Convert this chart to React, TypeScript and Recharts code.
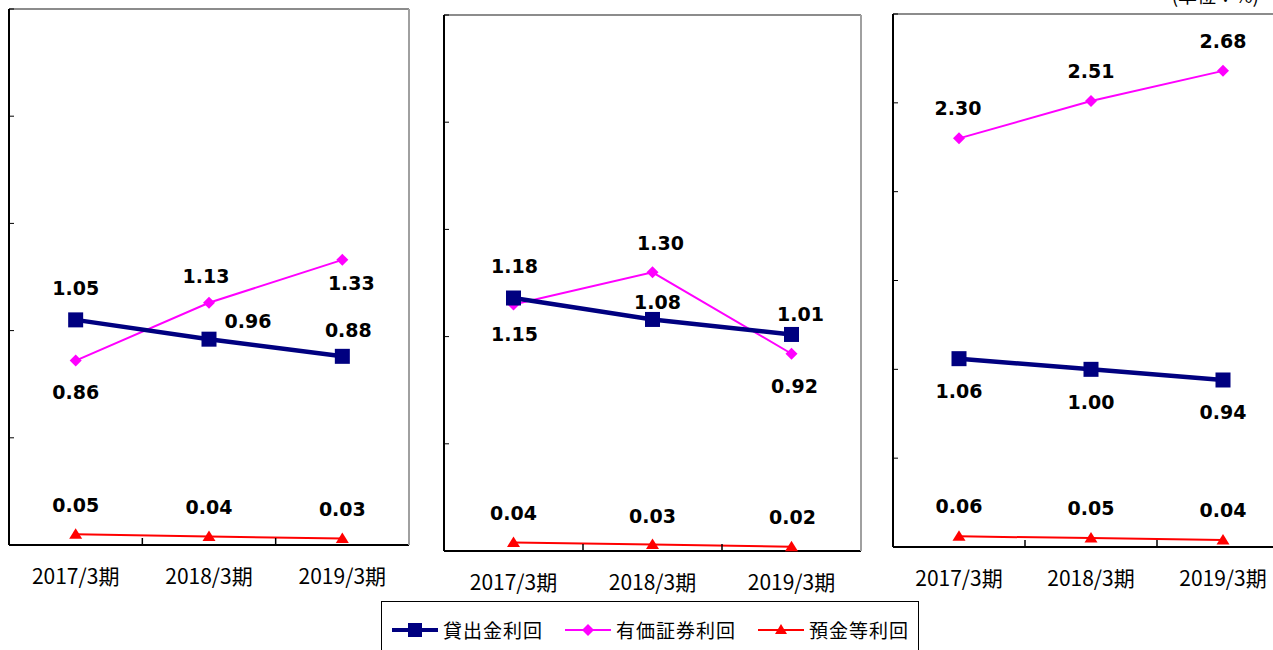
import React from "react"
import { LineChart, Line, XAxis, YAxis, LabelList } from "recharts"

const categories = ["2017/3期", "2018/3期", "2019/3期"]
const seriesNames = ["貸出金利回", "有価証券利回", "預金等利回"]

// 左：2017/3期～2019/3期
const loan1 = [1.05, 0.96, 0.88]
const sec1 = [0.86, 1.13, 1.33]
const dep1 = [0.05, 0.04, 0.03]
// 中央
const loan2 = [1.18, 1.08, 1.01]
const sec2 = [1.15, 1.3, 0.92]
const dep2 = [0.04, 0.03, 0.02]
// 右
const loan3 = [1.06, 1.0, 0.94]
const sec3 = [2.3, 2.51, 2.68]
const dep3 = [0.06, 0.05, 0.04]

const ticks25 = [0, 0.5, 1, 1.5, 2, 2.5]
const ticks30 = [0, 0.5, 1, 1.5, 2, 2.5, 3]

const NAVY = "#000080"
const PINK = "#ff00ff"
const RED = "#ff0000"
const M = 4
const AXIS_H = 50

const buildRows = (loan, sec, dep) =>
  categories.map((cat, i) => ({ cat, loan: loan[i], sec: sec[i], dep: dep[i] }))

const SquareDot = (props) => {
  const { cx, cy } = props
  if (cx == null || cy == null) return <g />
  return <rect x={cx - 7.5} y={cy - 7.5} width={15} height={15} fill={NAVY} />
}

const DiamondDot = (props) => {
  const { cx, cy } = props
  if (cx == null || cy == null) return <g />
  return <polygon points={`${cx},${cy - 6} ${cx + 6},${cy} ${cx},${cy + 6} ${cx - 6},${cy}`} fill={PINK} />
}

const TriangleDot = (props) => {
  const { cx, cy } = props
  if (cx == null || cy == null) return <g />
  return <polygon points={`${cx},${cy - 6} ${cx + 6.5},${cy + 4.5} ${cx - 6.5},${cy + 4.5}`} fill={RED} />
}

const valueLabel = (offsets) => (props) => {
  const { value, index } = props
  const x = props.x ?? props.viewBox?.x
  const y = props.y ?? props.viewBox?.y
  const [dx, dy] = offsets[index] || [0, -28]
  return (
    <text
      x={x + dx}
      y={y + dy}
      textAnchor="middle"
      dominantBaseline="central"
      fontFamily="'DejaVu Sans', Verdana, sans-serif"
      fontWeight="bold"
      fontSize={19}
      fill="#000"
    >
      {Number(value).toFixed(2)}
    </text>
  )
}

const CatTick = (props) => {
  const { x, y, payload, index } = props
  const edge = x + (payload.offset || 0)
  return (
    <g>
      {index < categories.length - 1 && (
        <line x1={edge} x2={edge} y1={y} y2={y - 7} stroke="#000" strokeWidth={1.5} />
      )}
      <text
        x={x}
        y={y + 30}
        textAnchor="middle"
        dominantBaseline="central"
        fontFamily="'Noto Sans CJK JP', sans-serif"
        fontSize={21}
        fill="#000"
      >
        {payload.value}
      </text>
    </g>
  )
}

const NoTick = () => <g />

function Panel({ rows, left, top, width, height, ticks, labels }) {
  const max = ticks[ticks.length - 1]
  return (
    <div style={{ position: "absolute", left: left - M - 1, top: top - M - 1 }}>
      <LineChart
        width={width + 2 * M + 2}
        height={height + M + 1 + AXIS_H}
        data={rows}
        margin={{ top: M, right: M, left: M, bottom: 0 }}
      >
        <XAxis
          dataKey="cat"
          scale="band"
          height={AXIS_H}
          axisLine={{ stroke: "#000", strokeWidth: 2 }}
          tickLine={false}
          tickSize={0}
          tickMargin={0}
          tick={<CatTick />}
          interval={0}
        />
        <XAxis
          xAxisId="top"
          dataKey="cat"
          scale="band"
          orientation="top"
          height={1}
          axisLine={{ stroke: "#8c8c8c", strokeWidth: 2 }}
          tickLine={false}
          tick={false}
        />
        <YAxis
          width={1}
          domain={[0, max]}
          ticks={ticks}
          axisLine={{ stroke: "#000", strokeWidth: 2 }}
          tickLine={{ stroke: "#000", strokeWidth: 1 }}
          tickSize={-5}
          tick={<NoTick />}
        />
        <YAxis
          yAxisId="right"
          orientation="right"
          width={1}
          domain={[0, max]}
          axisLine={{ stroke: "#a0a0a0", strokeWidth: 2 }}
          tickLine={false}
          tick={false}
        />
        <Line
          dataKey="dep"
          name={seriesNames[2]}
          stroke={RED}
          strokeWidth={2}
          dot={<TriangleDot />}
          isAnimationActive={false}
        >
          <LabelList dataKey="dep" content={valueLabel(labels.dep)} />
        </Line>
        <Line
          dataKey="sec"
          name={seriesNames[1]}
          stroke={PINK}
          strokeWidth={2}
          dot={<DiamondDot />}
          isAnimationActive={false}
        >
          <LabelList dataKey="sec" content={valueLabel(labels.sec)} />
        </Line>
        <Line
          dataKey="loan"
          name={seriesNames[0]}
          stroke={NAVY}
          strokeWidth={4.5}
          dot={<SquareDot />}
          isAnimationActive={false}
        >
          <LabelList dataKey="loan" content={valueLabel(labels.loan)} />
        </Line>
      </LineChart>
    </div>
  )
}

const labels1 = {
  loan: [[0, -32], [39, -18], [6, -26]],
  sec: [[0, 31], [-3, -27], [9, 23]],
  dep: [[0, -29], [0, -29], [0, -30]],
}
const labels2 = {
  loan: [[1, -32], [5, -17], [9, -20]],
  sec: [[1, 30], [8, -29], [3, 32]],
  dep: [[0, -29], [0, -29], [1, -30]],
}
const labels3 = {
  loan: [[0, 32], [0, 33], [0, 32]],
  sec: [[-1, -30], [0, -30], [0, -30]],
  dep: [[0, -30], [0, -30], [0, -30]],
}

const LegendIcon = ({ color, kind }) => (
  <svg width={46} height={20} style={{ display: "block", flexShrink: 0 }}>
    <line x1={0} x2={46} y1={10} y2={10} stroke={color} strokeWidth={kind === "square" ? 4 : 2} />
    {kind === "square" && <rect x={16} y={3} width={14} height={14} fill={color} />}
    {kind === "diamond" && <polygon points="23,4 29,10 23,16 17,10" fill={color} />}
    {kind === "triangle" && <polygon points="23,4 29,14 17,14" fill={color} />}
  </svg>
)

export default function App() {
  const legendItems = [
    { name: seriesNames[0], color: NAVY, kind: "square" },
    { name: seriesNames[1], color: PINK, kind: "diamond" },
    { name: seriesNames[2], color: RED, kind: "triangle" },
  ]
  return (
    <div
      style={{
        position: "fixed",
        left: 0,
        top: 0,
        width: 1273,
        height: 650,
        overflow: "hidden",
        background: "#fff",
      }}
    >
      <Panel rows={buildRows(loan1, sec1, dep1)} left={9} top={9} width={400} height={536} ticks={ticks25} labels={labels1} />
      <Panel rows={buildRows(loan2, sec2, dep2)} left={444} top={15} width={417} height={536} ticks={ticks25} labels={labels2} />
      <Panel rows={buildRows(loan3, sec3, dep3)} left={893} top={14} width={396} height={533} ticks={ticks30} labels={labels3} />

      <div
        style={{
          position: "absolute",
          right: 14,
          top: -19,
          fontFamily: "'Noto Sans CJK JP', sans-serif",
          fontSize: 19,
          color: "#000",
          whiteSpace: "nowrap",
        }}
      >
        (単位：%)
      </div>

      <div
        style={{
          position: "absolute",
          left: 381,
          top: 601,
          width: 538,
          height: 70,
          border: "1px solid #000",
          background: "#fff",
          display: "flex",
          alignItems: "flex-start",
          paddingTop: 16,
          paddingLeft: 10,
          boxSizing: "border-box",
          fontFamily: "'Noto Sans CJK JP', sans-serif",
          fontSize: 19,
          letterSpacing: 1,
          color: "#000",
          whiteSpace: "nowrap",
        }}
      >
        {legendItems.map((it) => (
          <div key={it.name} style={{ display: "flex", alignItems: "center", marginRight: 22, flexShrink: 0 }}>
            <LegendIcon color={it.color} kind={it.kind} />
            <span style={{ marginLeft: 5, lineHeight: "24px" }}>{it.name}</span>
          </div>
        ))}
      </div>
    </div>
  )
}
